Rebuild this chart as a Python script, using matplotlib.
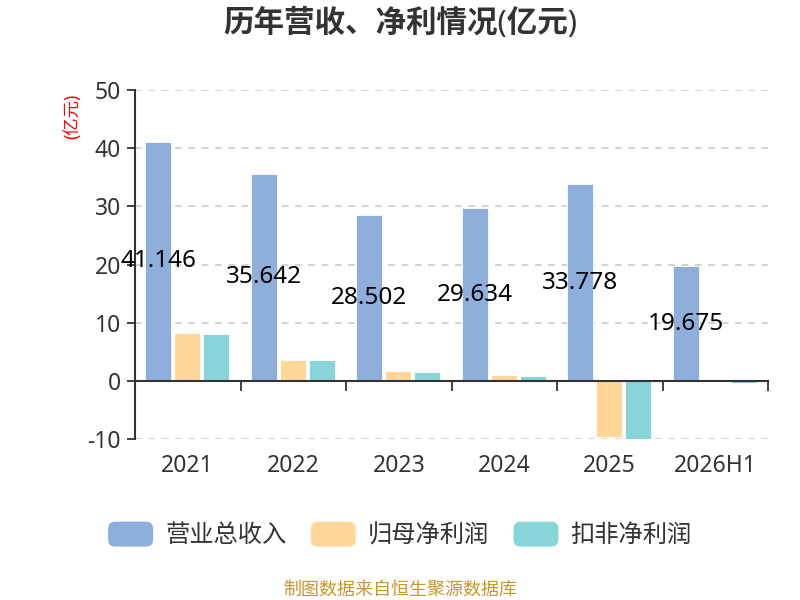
import numpy as np
import matplotlib
matplotlib.use("Agg")
import matplotlib.pyplot as plt
from matplotlib.patches import Patch, FancyBboxPatch
from matplotlib.legend_handler import HandlerPatch

plt.rcParams['font.family'] = ['Noto Sans', 'Noto Sans CJK SC', 'DejaVu Sans']
plt.rcParams['axes.unicode_minus'] = False

# ------------------ 数据 ------------------
years = ['2021', '2022', '2023', '2024', '2025', '2026H1']
revenue = [41.146, 35.642, 28.502, 29.634, 33.778, 19.675]
net_profit = [8.2, 3.6, 1.7, 1.0, -9.6, 0.0]
deducted_profit = [8.1, 3.6, 1.6, 0.9, -10.1, -0.3]
series_names = ['营业总收入', '归母净利润', '扣非净利润']
colors = ['#8eaedb', '#ffd899', '#87d5d9']


class RoundHandler(HandlerPatch):
    def create_artists(self, legend, orig_handle, xdescent, ydescent,
                       width, height, fontsize, trans):
        p = FancyBboxPatch((-xdescent, -ydescent), width, height,
                           boxstyle="round,pad=0,rounding_size=5",
                           facecolor=orig_handle.get_facecolor(),
                           edgecolor='none', transform=trans)
        return [p]


fig = plt.figure(figsize=(8, 6), dpi=100)
ax = fig.add_axes([135 / 800, 1 - 439 / 600, (768 - 135) / 800, (439 - 90) / 600])

x = np.arange(len(years))
width = 0.25
offsets = [-0.28, -0.005, 0.27]
for vals, off, c in zip([revenue, net_profit, deducted_profit], offsets, colors):
    ax.bar(x + off, vals, width, color=c, edgecolor='white', linewidth=0.6, zorder=3)

# 营收数值标签（放在柱子中部）
for i, v in enumerate(revenue):
    ax.text(x[i] + offsets[0], v / 2, f"{v:.3f}", ha='center', va='center',
            fontsize=17.5, color='black', zorder=5)

ax.set_xlim(-0.5, len(years) - 0.5)
ax.set_ylim(-10, 50)
ax.set_yticks(np.arange(-10, 51, 10))
ax.tick_params(axis='y', labelsize=16.5, labelcolor='#333333', color='#333333',
               length=6, width=1.3, pad=4)
for yv in [-10, 10, 20, 30, 40, 50]:
    ax.axhline(yv, color='#cccccc', linestyle=(0, (4, 4)), linewidth=1.2, zorder=1)

for s in ['top', 'right']:
    ax.spines[s].set_visible(False)
ax.spines['left'].set_color('#333333')
ax.spines['left'].set_linewidth(1.5)
ax.spines['bottom'].set_position(('data', 0))
ax.spines['bottom'].set_color('#333333')
ax.spines['bottom'].set_linewidth(1.5)
ax.spines['bottom'].set_zorder(4)

ax.set_xticks(np.arange(0.5, len(years), 1))
ax.set_xticklabels([])
ax.tick_params(axis='x', direction='out', length=7, width=1.3, color='#333333')
for i, yr in enumerate(years):
    ax.text(x[i], -0.077, yr, transform=ax.get_xaxis_transform(), ha='center',
            va='center', fontsize=16.5, color='#333333')

fig.text(72 / 800, 1 - 116 / 600, '(亿元)', rotation=90, color='red', fontsize=12.5,
         ha='center', va='center')

fig.text(0.5, 1 - 23 / 600, '历年营收、净利情况(亿元)', ha='center', va='center',
         fontsize=22, fontweight='bold', color='#333333')

handles = [Patch(facecolor=c, label=n) for c, n in zip(colors, series_names)]
fig.legend(handles=handles, loc='center', bbox_to_anchor=(0.5, 1 - 535 / 600), ncol=3,
           frameon=False, fontsize=17.5, handlelength=1.85, handleheight=1.2,
           handletextpad=0.5, columnspacing=1.0, labelcolor='#333333',
           handler_map={Patch: RoundHandler()})

fig.text(0.5, 1 - 590 / 600, '制图数据来自恒生聚源数据库', ha='center', va='center',
         fontsize=13, color='#c9962b')

fig.savefig('out.png', dpi=100)
